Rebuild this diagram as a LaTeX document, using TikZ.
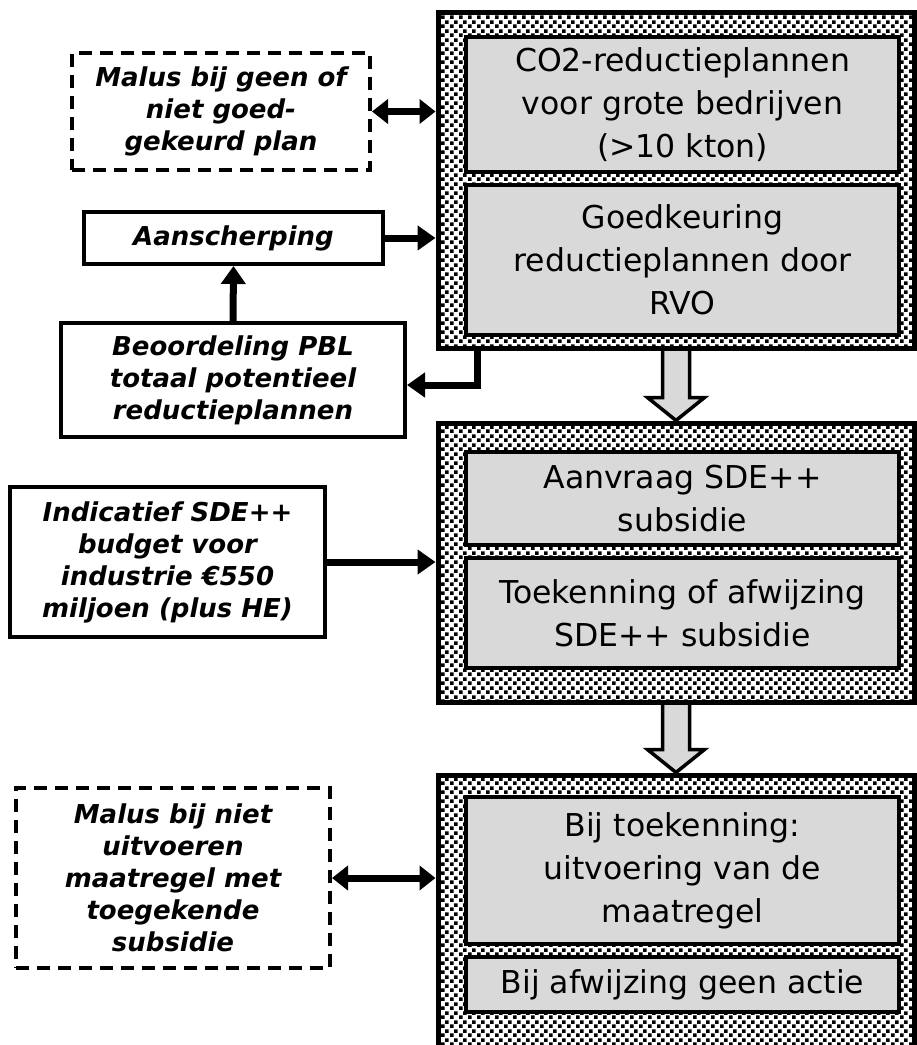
\documentclass[tikz,border=0pt]{standalone}
\usepackage{fontspec}
\setmainfont{DejaVu Sans}
\usetikzlibrary{arrows.meta,calc,patterns.meta,backgrounds}

\tikzdeclarepattern{
  name=dither, type=uncolored,
  bottom left={(0pt,0pt)}, top right={(9pt,9pt)}, tile size={(9pt,9pt)},
  code={
    \fill (0pt,0pt) rectangle (4pt,4pt);
    \fill (4.5pt,4.5pt) rectangle (8.5pt,8.5pt);
  }
}

\tikzset{
  panel/.style={draw, line width=5pt, preaction={fill=white}, pattern=dither,
    minimum width=476pt, inner sep=0pt},
  stage/.style={draw, line width=4pt, fill=black!15, minimum width=433pt,
    inner sep=0pt, align=center, font=\fontsize{31.5}{43}\selectfont},
  side/.style={draw, line width=4pt, fill=white, inner sep=0pt, align=center,
    font=\fontsize{26}{32}\selectfont\bfseries\itshape},
  malus/.style={side, dash pattern=on 13pt off 8pt},
  link/.style={line width=7pt, -{Triangle[length=18pt,width=24pt]}},
  twoway/.style={line width=7pt, {Triangle[length=16pt,width=24pt]}-{Triangle[length=16pt,width=24pt]}},
  bigarr/.style={draw, line width=3.5pt, fill=black!15, line join=miter},
}

\begin{document}
\begin{tikzpicture}[x=1pt, y=-1pt]
  \useasboundingbox (0,0) rectangle (917,1045);

  % stages on the right
  \node[panel, minimum height=336pt] (p1) at (676,180) {};
  \node[panel, minimum height=279pt] (p2) at (676,562.5) {};
  \node[panel, minimum height=290pt] (p3) at (676,920) {};

  \node[stage, minimum height=135pt] (plan) at (682.5,104.5)
    {CO2-reductieplannen\\ voor grote bedrijven\\ (>10 kton)};
  \node[stage, minimum height=150pt] (goed) at (682.5,260)
    {Goedkeuring\\ reductieplannen door\\ RVO};
  \node[stage, minimum height=93pt] (aanvr) at (682.5,498.5)
    {Aanvraag SDE++\\ subsidie};
  \node[stage, minimum height=110pt] (toek) at (682.5,613)
    {Toekenning of afwijzing\\ SDE++ subsidie};
  \node[stage, minimum height=147pt] (uitv) at (682.5,870.5)
    {Bij toekenning:\\ uitvoering van de\\ maatregel};
  \node[stage, minimum height=55pt] (geen) at (682.5,984.5)
    {Bij afwijzing geen actie};

  % boxes on the left
  \node[malus, minimum width=298pt, minimum height=117pt] (mal1) at (221,111.5)
    {Malus bij geen of\\ niet goed-\\ gekeurd plan};
  \node[side, minimum width=299pt, minimum height=52pt] (aan) at (233.5,238)
    {Aanscherping};
  \node[side, minimum width=344pt, minimum height=114pt] (beo) at (233,380)
    {Beoordeling PBL\\ totaal potentieel\\ reductieplannen};
  \node[side, minimum width=315pt, minimum height=150pt] (ind) at (167.5,562)
    {Indicatief SDE++\\ budget voor\\ industrie €550\\ miljoen (plus HE)};
  \node[malus, minimum width=314pt, minimum height=180pt] (mal2) at (173,878)
    {Malus bij niet\\ uitvoeren\\ maatregel met\\ toegekende\\ subsidie};

  \coordinate (tap) at ($(p1.south)+(-199,0)$);

  \draw[twoway] (mal1.east) -- (mal1.east -| p1.west);
  \draw[link] (aan.east) -- (aan.east -| p1.west);
  \draw[link] (beo.north) -- (aan.south);
  \draw[link] (tap) |- ([yshift=-5pt]beo.east);
  \draw[link] (ind.east) -- (ind.east -| p2.west);
  \draw[twoway] (mal2.east) -- (mal2.east -| p3.west);

  % big arrows between the stages
  \begin{scope}[on background layer]
    \draw[bigarr] ($(p1.south)+(-13.5,0)$) -- ($(p2.north)+(-13.5,-23)$)
      -- ($(p2.north)+(-28.5,-23)$) -- (p2.north) -- ($(p2.north)+(28.5,-23)$)
      -- ($(p2.north)+(13.5,-23)$) -- ($(p1.south)+(13.5,0)$);
    \draw[bigarr] ($(p2.south)+(-13.5,0)$) -- ($(p3.north)+(-13.5,-23)$)
      -- ($(p3.north)+(-28.5,-23)$) -- (p3.north) -- ($(p3.north)+(28.5,-23)$)
      -- ($(p3.north)+(13.5,-23)$) -- ($(p2.south)+(13.5,0)$);
  \end{scope}
\end{tikzpicture}
\end{document}
